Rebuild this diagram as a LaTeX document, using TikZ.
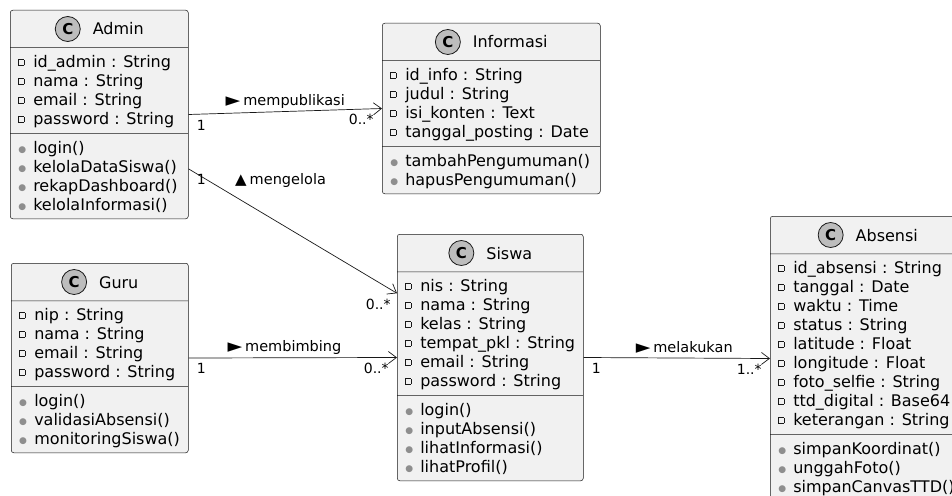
\documentclass[tikz,border=0pt]{standalone}
\usepackage{fontspec}
\setmainfont{DejaVu Sans}
\usetikzlibrary{shapes.multipart,arrows.meta,calc}
\definecolor{umlfill}{HTML}{F1F1F1}
\definecolor{umlline}{HTML}{181818}
\definecolor{spotfill}{HTML}{BDBDBD}
\definecolor{mkpub}{HTML}{8E8E8E}
\newcommand{\rowstrut}{\rule[-4pt]{0pt}{19pt}}
\newcommand{\pv}{\rowstrut\makebox[15pt][l]{\raisebox{2.5pt}{\textcolor{umlline}{\setlength\fboxrule{0.6pt}\setlength\fboxsep{0pt}\fbox{\rule{5pt}{0pt}\rule{0pt}{5pt}}}}}}
\newcommand{\pb}{\rowstrut\makebox[15pt][l]{\raisebox{1pt}{\textcolor{mkpub}{\fontsize{9}{9}\selectfont ●}}}}
\newcommand{\hdr}[1]{\rule[-8pt]{0pt}{28pt}\hspace*{38pt}#1}
\newcommand{\tri}{\raisebox{-1pt}{\fontsize{19}{19}\selectfont ►}\hspace{3pt}}
\newcommand{\triup}{\raisebox{0pt}{\fontsize{15}{15}\selectfont ▲}\hspace{3pt}}
\tikzset{
	umlclass/.style={rectangle split, rectangle split parts=3, rectangle split part align={center,left,left},
		draw=umlline, fill=umlfill, line width=0.5pt, rounded corners=2.5pt, align=left,
		inner xsep=8pt, inner ysep=4.5pt, anchor=north west, font=\fontsize{16}{19}\selectfont},
	spot/.style={circle, draw=umlline, fill=spotfill, line width=0.8pt, minimum size=25pt, inner sep=0pt,
		font=\bfseries\fontsize{15}{15}\selectfont},
	assoc/.style={draw=umlline, line width=0.7pt, -{Straight Barb[length=8pt,width=12pt]}},
	rel/.style={font=\fontsize{14.5}{17}\selectfont, inner sep=1pt, text height=11pt, text depth=3.5pt},
	mult/.style={font=\fontsize{14}{16}\selectfont, inner sep=2pt, yshift=-3pt}
}
\begin{document}
\begin{tikzpicture}[x=1pt,y=-1pt]
	\useasboundingbox (0,0) rectangle (952,495);
	\clip (0,0) rectangle (952,495);
	% classes
	\node[umlclass, minimum width=178pt] (admin) at (10,10) {\hdr{Admin}
		\nodepart{two}\pv id\_admin : String\\ \pv nama : String\\ \pv email : String\\ \pv password : String
		\nodepart{three}\pb login()\\ \pb kelolaDataSiswa()\\ \pb rekapDashboard()\\ \pb kelolaInformasi()};
	\node[umlclass, minimum width=218pt] (info) at (382,23) {\hdr{Informasi}
		\nodepart{two}\pv id\_info : String\\ \pv judul : String\\ \pv isi\_konten : Text\\ \pv tanggal\_posting : Date
		\nodepart{three}\pb tambahPengumuman()\\ \pb hapusPengumuman()};
	\node[umlclass, minimum width=177pt] (guru) at (11,263) {\hdr{Guru}
		\nodepart{two}\pv nip : String\\ \pv nama : String\\ \pv email : String\\ \pv password : String
		\nodepart{three}\pb login()\\ \pb validasiAbsensi()\\ \pb monitoringSiswa()};
	\node[umlclass, minimum width=186pt] (siswa) at (397,234) {\hdr{Siswa}
		\nodepart{two}\pv nis : String\\ \pv nama : String\\ \pv kelas : String\\ \pv tempat\_pkl : String\\ \pv email : String\\ \pv password : String
		\nodepart{three}\pb login()\\ \pb inputAbsensi()\\ \pb lihatInformasi()\\ \pb lihatProfil()};
	\node[umlclass, minimum width=195pt] (absensi) at (770,216) {\hdr{Absensi}
		\nodepart{two}\pv id\_absensi : String\\ \pv tanggal : Date\\ \pv waktu : Time\\ \pv status : String\\ \pv latitude : Float\\ \pv longitude : Float\\ \pv foto\_selfie : String\\ \pv ttd\_digital : Base64\\ \pv keterangan : String
		\nodepart{three}\pb simpanKoordinat()\\ \pb unggahFoto()\\ \pb simpanCanvasTTD()};
	\foreach \c in {admin,info,guru,siswa,absensi}
		\node[spot] (\c-spot) at ($(\c.text)+(13,-6)$) {C};
	% relations
	\draw[assoc] (admin.east) -- (info.west)
		node[rel, midway, above=1pt] (lblPub) {\tri mempublikasi}
		node[mult, at start, anchor=north west, xshift=6pt] (mPubA) {1}
		node[mult, at end, anchor=north east, xshift=-6pt] (mPubB) {0..*};
	\draw[assoc] ($(admin.south east)!0.24!(admin.north east)$) -- ($(siswa.north west)!0.24!(siswa.south west)$)
		node[mult, at start, anchor=north west, xshift=6pt] (mKelA) {1}
		node[mult, at end, anchor=north east, xshift=-4pt] (mKelB) {0..*};
	\node[rel, anchor=west] (lblKelola) at (234,181) {\triup mengelola};
	\draw[assoc] (guru.east) -- (siswa.west)
		node[rel, pos=0.46, above=1pt] (lblBimbing) {\tri membimbing}
		node[mult, at start, anchor=north west, xshift=6pt] (mBimA) {1}
		node[mult, at end, anchor=north east, xshift=-6pt] (mBimB) {0..*};
	\draw[assoc] (siswa.east) -- (absensi.west)
		node[rel, pos=0.54, above=1pt] (lblLaku) {\tri melakukan}
		node[mult, at start, anchor=north west, xshift=6pt] (mLakA) {1}
		node[mult, at end, anchor=north east, xshift=-6pt] (mLakB) {1..*};
\end{tikzpicture}
\end{document}
